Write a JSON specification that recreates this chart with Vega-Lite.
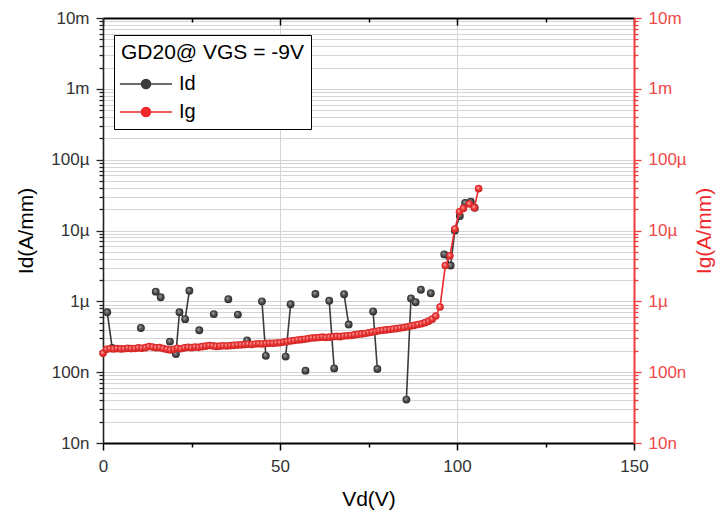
{
  "$schema": "https://vega.github.io/schema/vega-lite/v6.json",
  "width": 531,
  "height": 425,
  "autosize": {"type": "none"},
  "padding": {"left": 103, "top": 18, "right": 83, "bottom": 71},
  "background": "white",
  "config": {
    "font": "Liberation Sans",
    "view": {"stroke": null},
    "axis": {"labelFont": "Liberation Sans", "titleFont": "Liberation Sans", "titleFontWeight": "normal"}
  },
  "datasets": {
    "Id": [
      {"V": 1.2, "I": 7.0e-7, "seg": "a", "s": "Id"},
      {"V": 2.6, "I": 2.2e-7, "seg": "a", "s": "Id"},
      {"V": 10.7, "I": 4.2e-7, "seg": "b", "s": "Id"},
      {"V": 14.9, "I": 1.37e-6, "seg": "c", "s": "Id"},
      {"V": 16.3, "I": 1.14e-6, "seg": "d", "s": "Id"},
      {"V": 18.9, "I": 2.7e-7, "seg": "e", "s": "Id"},
      {"V": 20.6, "I": 1.8e-7, "seg": "f", "s": "Id"},
      {"V": 21.6, "I": 7.0e-7, "seg": "f", "s": "Id"},
      {"V": 23.2, "I": 5.6e-7, "seg": "f", "s": "Id"},
      {"V": 24.4, "I": 1.41e-6, "seg": "f", "s": "Id"},
      {"V": 27.2, "I": 3.9e-7, "seg": "g", "s": "Id"},
      {"V": 31.3, "I": 6.6e-7, "seg": "h", "s": "Id"},
      {"V": 35.4, "I": 1.07e-6, "seg": "i", "s": "Id"},
      {"V": 38.1, "I": 6.5e-7, "seg": "j", "s": "Id"},
      {"V": 40.7, "I": 2.8e-7, "seg": "k", "s": "Id"},
      {"V": 44.9, "I": 1.0e-6, "seg": "l", "s": "Id"},
      {"V": 46.0, "I": 1.7e-7, "seg": "l", "s": "Id"},
      {"V": 51.6, "I": 1.66e-7, "seg": "m", "s": "Id"},
      {"V": 53.0, "I": 9.1e-7, "seg": "m", "s": "Id"},
      {"V": 57.2, "I": 1.05e-7, "seg": "n", "s": "Id"},
      {"V": 60.0, "I": 1.27e-6, "seg": "o", "s": "Id"},
      {"V": 63.9, "I": 1.02e-6, "seg": "p", "s": "Id"},
      {"V": 65.3, "I": 1.13e-7, "seg": "p", "s": "Id"},
      {"V": 68.1, "I": 1.26e-6, "seg": "q", "s": "Id"},
      {"V": 69.4, "I": 4.7e-7, "seg": "q", "s": "Id"},
      {"V": 76.3, "I": 7.2e-7, "seg": "r", "s": "Id"},
      {"V": 77.5, "I": 1.11e-7, "seg": "r", "s": "Id"},
      {"V": 85.7, "I": 4.1e-8, "seg": "s", "s": "Id"},
      {"V": 87.0, "I": 1.10e-6, "seg": "s", "s": "Id"},
      {"V": 88.3, "I": 9.7e-7, "seg": "s", "s": "Id"},
      {"V": 89.8, "I": 1.46e-6, "seg": "t", "s": "Id"},
      {"V": 92.6, "I": 1.30e-6, "seg": "t2", "s": "Id"},
      {"V": 96.4, "I": 4.6e-6, "seg": "u", "s": "Id"},
      {"V": 98.2, "I": 3.2e-6, "seg": "u", "s": "Id"},
      {"V": 99.4, "I": 1.0e-5, "seg": "u", "s": "Id"},
      {"V": 100.8, "I": 1.6e-5, "seg": "u", "s": "Id"},
      {"V": 102.3, "I": 2.45e-5, "seg": "u", "s": "Id"},
      {"V": 103.9, "I": 2.55e-5, "seg": "u", "s": "Id"},
      {"V": 105.0, "I": 2.1e-5, "seg": "u", "s": "Id"}
    ],
    "Ig": [
      {"V": 0, "I": 1.85e-7, "s": "Ig"}, {"V": 1, "I": 2.10e-7, "s": "Ig"}, {"V": 2, "I": 2.14e-7, "s": "Ig"},
      {"V": 3, "I": 2.12e-7, "s": "Ig"}, {"V": 4, "I": 2.15e-7, "s": "Ig"}, {"V": 5, "I": 2.13e-7, "s": "Ig"},
      {"V": 6, "I": 2.14e-7, "s": "Ig"}, {"V": 7, "I": 2.17e-7, "s": "Ig"}, {"V": 8, "I": 2.15e-7, "s": "Ig"},
      {"V": 9, "I": 2.16e-7, "s": "Ig"}, {"V": 10, "I": 2.20e-7, "s": "Ig"}, {"V": 11, "I": 2.18e-7, "s": "Ig"},
      {"V": 12, "I": 2.22e-7, "s": "Ig"}, {"V": 13, "I": 2.30e-7, "s": "Ig"}, {"V": 14, "I": 2.26e-7, "s": "Ig"},
      {"V": 15, "I": 2.21e-7, "s": "Ig"}, {"V": 16, "I": 2.22e-7, "s": "Ig"}, {"V": 17, "I": 2.15e-7, "s": "Ig"},
      {"V": 18, "I": 2.10e-7, "s": "Ig"}, {"V": 19, "I": 2.06e-7, "s": "Ig"}, {"V": 20, "I": 2.10e-7, "s": "Ig"},
      {"V": 21, "I": 2.18e-7, "s": "Ig"}, {"V": 22, "I": 2.14e-7, "s": "Ig"}, {"V": 23, "I": 2.20e-7, "s": "Ig"},
      {"V": 24, "I": 2.24e-7, "s": "Ig"}, {"V": 25, "I": 2.22e-7, "s": "Ig"}, {"V": 26, "I": 2.26e-7, "s": "Ig"},
      {"V": 27, "I": 2.24e-7, "s": "Ig"}, {"V": 28, "I": 2.29e-7, "s": "Ig"}, {"V": 29, "I": 2.33e-7, "s": "Ig"},
      {"V": 30, "I": 2.38e-7, "s": "Ig"}, {"V": 31, "I": 2.35e-7, "s": "Ig"}, {"V": 32, "I": 2.31e-7, "s": "Ig"},
      {"V": 33, "I": 2.33e-7, "s": "Ig"}, {"V": 34, "I": 2.36e-7, "s": "Ig"}, {"V": 35, "I": 2.34e-7, "s": "Ig"},
      {"V": 36, "I": 2.37e-7, "s": "Ig"}, {"V": 37, "I": 2.39e-7, "s": "Ig"}, {"V": 38, "I": 2.41e-7, "s": "Ig"},
      {"V": 39, "I": 2.43e-7, "s": "Ig"}, {"V": 40, "I": 2.45e-7, "s": "Ig"}, {"V": 41, "I": 2.48e-7, "s": "Ig"},
      {"V": 42, "I": 2.46e-7, "s": "Ig"}, {"V": 43, "I": 2.50e-7, "s": "Ig"}, {"V": 44, "I": 2.52e-7, "s": "Ig"},
      {"V": 45, "I": 2.50e-7, "s": "Ig"}, {"V": 46, "I": 2.53e-7, "s": "Ig"}, {"V": 47, "I": 2.56e-7, "s": "Ig"},
      {"V": 48, "I": 2.55e-7, "s": "Ig"}, {"V": 49, "I": 2.58e-7, "s": "Ig"}, {"V": 50, "I": 2.60e-7, "s": "Ig"},
      {"V": 51, "I": 2.66e-7, "s": "Ig"}, {"V": 52, "I": 2.70e-7, "s": "Ig"}, {"V": 53, "I": 2.76e-7, "s": "Ig"},
      {"V": 54, "I": 2.80e-7, "s": "Ig"}, {"V": 55, "I": 2.85e-7, "s": "Ig"}, {"V": 56, "I": 2.88e-7, "s": "Ig"},
      {"V": 57, "I": 2.92e-7, "s": "Ig"}, {"V": 58, "I": 2.98e-7, "s": "Ig"}, {"V": 59, "I": 3.03e-7, "s": "Ig"},
      {"V": 60, "I": 3.05e-7, "s": "Ig"}, {"V": 61, "I": 3.08e-7, "s": "Ig"}, {"V": 62, "I": 3.12e-7, "s": "Ig"},
      {"V": 63, "I": 3.08e-7, "s": "Ig"}, {"V": 64, "I": 3.12e-7, "s": "Ig"}, {"V": 65, "I": 3.16e-7, "s": "Ig"},
      {"V": 66, "I": 3.20e-7, "s": "Ig"}, {"V": 67, "I": 3.17e-7, "s": "Ig"}, {"V": 68, "I": 3.24e-7, "s": "Ig"},
      {"V": 69, "I": 3.26e-7, "s": "Ig"}, {"V": 70, "I": 3.30e-7, "s": "Ig"}, {"V": 71, "I": 3.36e-7, "s": "Ig"},
      {"V": 72, "I": 3.42e-7, "s": "Ig"}, {"V": 73, "I": 3.47e-7, "s": "Ig"}, {"V": 74, "I": 3.52e-7, "s": "Ig"},
      {"V": 75, "I": 3.60e-7, "s": "Ig"}, {"V": 76, "I": 3.68e-7, "s": "Ig"}, {"V": 77, "I": 3.75e-7, "s": "Ig"},
      {"V": 78, "I": 3.85e-7, "s": "Ig"}, {"V": 79, "I": 3.90e-7, "s": "Ig"}, {"V": 80, "I": 3.95e-7, "s": "Ig"},
      {"V": 81, "I": 4.00e-7, "s": "Ig"}, {"V": 82, "I": 4.06e-7, "s": "Ig"}, {"V": 83, "I": 4.12e-7, "s": "Ig"},
      {"V": 84, "I": 4.20e-7, "s": "Ig"}, {"V": 85, "I": 4.28e-7, "s": "Ig"}, {"V": 86, "I": 4.38e-7, "s": "Ig"},
      {"V": 87, "I": 4.48e-7, "s": "Ig"}, {"V": 88, "I": 4.58e-7, "s": "Ig"}, {"V": 89, "I": 4.70e-7, "s": "Ig"},
      {"V": 90, "I": 4.82e-7, "s": "Ig"}, {"V": 91, "I": 5.00e-7, "s": "Ig"}, {"V": 92, "I": 5.25e-7, "s": "Ig"},
      {"V": 93, "I": 5.60e-7, "s": "Ig"}, {"V": 94, "I": 6.20e-7, "s": "Ig"}, {"V": 95.2, "I": 8.3e-7, "s": "Ig"},
      {"V": 96.7, "I": 3.2e-6, "s": "Ig"}, {"V": 98.0, "I": 4.4e-6, "s": "Ig"}, {"V": 99.4, "I": 1.05e-5, "s": "Ig"},
      {"V": 100.7, "I": 1.84e-5, "s": "Ig"}, {"V": 101.8, "I": 2.05e-5, "s": "Ig"}, {"V": 103.5, "I": 2.37e-5, "s": "Ig"},
      {"V": 104.9, "I": 2.1e-5, "s": "Ig"}, {"V": 106.1, "I": 3.9e-5, "s": "Ig"}
    ]
  },
  "layer": [
    {
      "data": {"name": "Id"},
      "layer": [
        {
          "mark": {"type": "line", "strokeWidth": 1.6},
          "encoding": {
            "x": {
              "field": "V", "type": "quantitative",
              "scale": {"domain": [0, 150], "nice": false, "zero": false},
              "axis": {
                "orient": "bottom", "title": "Vd(V)",
                "values": [0, 25, 50, 75, 100, 125, 150],
                "labelExpr": "datum.value % 50 == 0 ? datum.label : ''",
                "labelFontSize": 17, "labelColor": "#333", "labelPadding": 8,
                "labelFlush": false, "labelOverlap": false,
                "tickSize": {"condition": {"test": "datum.value % 50 == 0", "value": 7}, "value": 4},
                "tickColor": "#000", "tickWidth": 1.5,
                "domainColor": "#000", "domainWidth": 2,
                "grid": true, "gridColor": "#d4d4d4", "gridWidth": 1,
                "gridOpacity": {"condition": {"test": "datum.value % 50 == 0", "value": 1}, "value": 0},
                "titleFontSize": 21, "titleColor": "#000", "titlePadding": 14
              }
            },
            "y": {
              "field": "I", "type": "quantitative",
              "scale": {"type": "log", "domain": [1e-8, 1e-2], "nice": false},
              "axis": {
                "orient": "left", "title": "Id(A/mm)",
                "values": [1e-8, 2e-8, 3e-8, 4e-8, 5e-8, 6e-8, 7e-8, 8e-8, 9e-8,
                           1e-7, 2e-7, 3e-7, 4e-7, 5e-7, 6e-7, 7e-7, 8e-7, 9e-7,
                           1e-6, 2e-6, 3e-6, 4e-6, 5e-6, 6e-6, 7e-6, 8e-6, 9e-6,
                           1e-5, 2e-5, 3e-5, 4e-5, 5e-5, 6e-5, 7e-5, 8e-5, 9e-5,
                           1e-4, 2e-4, 3e-4, 4e-4, 5e-4, 6e-4, 7e-4, 8e-4, 9e-4,
                           1e-3, 2e-3, 3e-3, 4e-3, 5e-3, 6e-3, 7e-3, 8e-3, 9e-3, 1e-2],
                "labelExpr": "abs(log(datum.value)/LN10 - round(log(datum.value)/LN10)) < 0.001 ? format(datum.value, '~s') : ''",
                "labelFontSize": 17, "labelColor": "#333", "labelPadding": 7,
                "labelOverlap": false, "labelFlush": false, "labelBound": false,
                "tickSize": {"condition": {"test": "abs(log(datum.value)/LN10 - round(log(datum.value)/LN10)) < 0.001", "value": 7}, "value": 4},
                "tickColor": "#222", "tickWidth": 1.3,
                "domainColor": "#222", "domainWidth": 1.6,
                "grid": true, "gridColor": "#d4d4d4", "gridWidth": 1,
                "titleFontSize": 21, "titleColor": "#000", "titlePadding": 14
              }
            },
            "detail": {"field": "seg", "type": "nominal"},
            "stroke": {
              "field": "s", "type": "nominal",
              "scale": {"domain": ["Id", "Ig"], "range": ["#3c3c3c", "#f0282d"]},
              "legend": {
                "orient": "none", "legendX": 11, "legendY": 17,
                "title": "GD20@ VGS = -9V", "titleLimit": 500,
                "titleFontSize": 21, "titleFontWeight": "normal", "titleColor": "#000", "titlePadding": 11,
                "labelFontSize": 20, "labelColor": "#000",
                "strokeColor": "#000", "fillColor": "#fff", "padding": 7,
                "rowPadding": 8,
                "symbolType": "M-2.9,0L2.9,0M-0.5,0A0.5,0.5,0,1,1,0.5,0A0.5,0.5,0,1,1,-0.5,0Z",
                "symbolSize": 324, "symbolStrokeWidth": 1.6,
                "symbolOffset": 15, "labelOffset": 23,
                "encode": {"symbols": {"update": {"fill": {"scale": "stroke", "field": "value"}, "fillOpacity": {"value": 1}}}}
              }
            }
          }
        },
        {
          "mark": {
            "type": "point", "filled": true, "size": 62, "opacity": 1, "strokeWidth": 0,
            "fill": {"gradient": "radial", "x1": 0.4, "y1": 0.35, "r1": 0, "x2": 0.5, "y2": 0.5, "r2": 0.55,
                     "stops": [{"offset": 0, "color": "#b0b0b0"}, {"offset": 0.45, "color": "#555555"}, {"offset": 1, "color": "#222222"}]}
          },
          "encoding": {
            "x": {"field": "V", "type": "quantitative", "scale": {"domain": [0, 150], "nice": false, "zero": false}},
            "y": {"field": "I", "type": "quantitative", "scale": {"type": "log", "domain": [1e-8, 1e-2], "nice": false}}
          }
        }
      ]
    },
    {
      "data": {"name": "Ig"},
      "layer": [
        {
          "mark": {"type": "line", "strokeWidth": 1.6},
          "encoding": {
            "x": {
              "field": "V", "type": "quantitative",
              "scale": {"domain": [0, 150], "nice": false, "zero": false},
              "axis": {
                "orient": "top", "title": null, "labels": false,
                "values": [0, 25, 50, 75, 100, 125, 150],
                "tickSize": {"condition": {"test": "datum.value % 50 == 0", "value": -7}, "value": -4},
                "tickColor": "#000", "tickWidth": 1.5,
                "domainColor": "#000", "domainWidth": 2, "grid": false
              }
            },
            "y": {
              "field": "I", "type": "quantitative",
              "scale": {"type": "log", "domain": [1e-8, 1e-2], "nice": false},
              "axis": {
                "orient": "right", "title": "Ig(A/mm)",
                "values": [1e-8, 2e-8, 3e-8, 4e-8, 5e-8, 6e-8, 7e-8, 8e-8, 9e-8,
                           1e-7, 2e-7, 3e-7, 4e-7, 5e-7, 6e-7, 7e-7, 8e-7, 9e-7,
                           1e-6, 2e-6, 3e-6, 4e-6, 5e-6, 6e-6, 7e-6, 8e-6, 9e-6,
                           1e-5, 2e-5, 3e-5, 4e-5, 5e-5, 6e-5, 7e-5, 8e-5, 9e-5,
                           1e-4, 2e-4, 3e-4, 4e-4, 5e-4, 6e-4, 7e-4, 8e-4, 9e-4,
                           1e-3, 2e-3, 3e-3, 4e-3, 5e-3, 6e-3, 7e-3, 8e-3, 9e-3, 1e-2],
                "labelExpr": "abs(log(datum.value)/LN10 - round(log(datum.value)/LN10)) < 0.001 ? format(datum.value, '~s') : ''",
                "labelFontSize": 17, "labelColor": "#ef4848", "labelPadding": 7,
                "labelOverlap": false, "labelFlush": false, "labelBound": false,
                "tickSize": {"condition": {"test": "abs(log(datum.value)/LN10 - round(log(datum.value)/LN10)) < 0.001", "value": 7}, "value": 4},
                "tickColor": "#f03c3c", "tickWidth": 1.3,
                "domainColor": "#f03c3c", "domainWidth": 2,
                "grid": false,
                "titleFontSize": 21, "titleColor": "#f0282d", "titlePadding": 7,
                "titleAngle": -90, "titleBaseline": "top"
              }
            },
            "stroke": {"field": "s", "type": "nominal", "scale": {"domain": ["Id", "Ig"], "range": ["#3c3c3c", "#f0282d"]}}
          }
        },
        {
          "mark": {
            "type": "point", "filled": true, "size": 58, "opacity": 1, "strokeWidth": 0,
            "fill": {"gradient": "radial", "x1": 0.4, "y1": 0.35, "r1": 0, "x2": 0.5, "y2": 0.5, "r2": 0.55,
                     "stops": [{"offset": 0, "color": "#ffc0c0"}, {"offset": 0.45, "color": "#f03c3c"}, {"offset": 1, "color": "#c81a1a"}]}
          },
          "encoding": {
            "x": {"field": "V", "type": "quantitative", "scale": {"domain": [0, 150], "nice": false, "zero": false}},
            "y": {"field": "I", "type": "quantitative", "scale": {"type": "log", "domain": [1e-8, 1e-2], "nice": false}}
          }
        }
      ]
    }
  ],
  "resolve": {
    "scale": {"x": "independent", "y": "independent"},
    "axis": {"x": "independent", "y": "independent"}
  }
}
